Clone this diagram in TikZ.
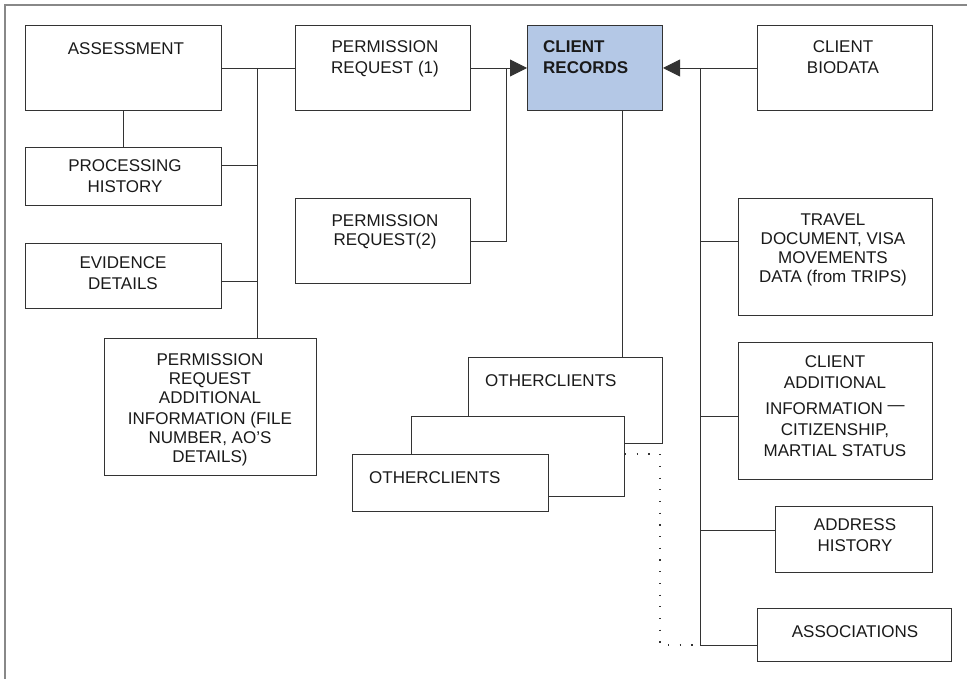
\documentclass[tikz,border=0pt]{standalone}
\usepackage{fontspec}
\setmainfont{Liberation Sans}
\usetikzlibrary{arrows.meta}
\definecolor{linec}{HTML}{333333}
\definecolor{framec}{HTML}{888888}
\definecolor{recfill}{HTML}{B4C8E6}
\definecolor{txtc}{HTML}{1A1A1A}

\begin{document}
\begin{tikzpicture}[x=1pt,y=-1pt,
  box/.style={draw=linec, line width=1pt, fill=white, anchor=north west, inner sep=0pt},
  lbl/.style={anchor=north, inner sep=0pt, align=center, text=txtc,
    font=\fontsize{17}{19}\selectfont, execute at begin node=\strut},
  lbll/.style={lbl, anchor=north west, align=left},
  conn/.style={draw=linec, line width=0.9pt},
  tip/.style={-{Triangle[length=17pt,width=17pt]}},
  dots/.style={draw=linec, line width=1.4pt, dash pattern=on 1.2pt off 10.5pt}]

\useasboundingbox (0,0) rectangle (967,679);
\draw[framec, line width=1.5pt] (5,679) -- (5,5) -- (967,5);

% boxes on the left
\node[box, minimum width=196pt, minimum height=85pt] (asmt) at (25,25) {};
\node[box, minimum width=196pt, minimum height=58pt] (proc) at (25,147) {};
\node[box, minimum width=196pt, minimum height=65pt] (evid) at (25,243) {};
\node[box, minimum width=212pt, minimum height=137pt] (prai) at (104,338) {};
\node[box, minimum width=175pt, minimum height=85pt] (pr1) at (295,25) {};
\node[box, minimum width=175pt, minimum height=85pt] (pr2) at (295,198) {};

% central record and stacked clients
\node[box, fill=recfill, minimum width=135pt, minimum height=85pt] (rec) at (527,25) {};
\node[box, minimum width=194pt, minimum height=86pt] (oc1) at (468,357) {};
\node[box, minimum width=213pt, minimum height=80pt] (oc2) at (411,416) {};
\node[box, minimum width=196pt, minimum height=57pt] (oc3) at (352,454) {};

% boxes on the right
\node[box, minimum width=175pt, minimum height=85pt] (bio) at (757,25) {};
\node[box, minimum width=194pt, minimum height=117pt] (travel) at (738,198) {};
\node[box, minimum width=194pt, minimum height=137pt] (cai) at (738,342) {};
\node[box, minimum width=157pt, minimum height=66pt] (addr) at (775,506) {};
\node[box, minimum width=194pt, minimum height=53pt] (assoc) at (757,608) {};

% texts
\node[lbl] (asmt-t) at (126,40.7) {ASSESSMENT};
\node[lbl] (proc-t) at (125,159.7) {PROCESSING\\[2pt]HISTORY};
\node[lbl] (evid-t) at (123,256.7) {EVIDENCE\\[2pt]DETAILS};
\node[lbl] (prai-t) at (210,353.7) {PERMISSION\\REQUEST\\ADDITIONAL\\[2pt]INFORMATION (FILE\\NUMBER, AO’S\\DETAILS)};
\node[lbl] (pr1-t) at (385,40.7) {PERMISSION\\[2pt]REQUEST (1)};
\node[lbl] (pr2-t) at (385,214.7) {PERMISSION\\REQUEST(2)};
\node[lbll, font=\fontsize{17}{19}\selectfont\bfseries] (rec-t) at (543,40.7) {CLIENT\\[2pt]RECORDS};
\node[lbll] (oc1-t) at (485,372.7) {OTHERCLIENTS};
\node[lbll] (oc3-t) at (369,469.7) {OTHERCLIENTS};
\node[lbl] (bio-t) at (843,40.7) {CLIENT\\[2pt]BIODATA};
\node[lbl] (travel-t) at (833,213.7) {TRAVEL\\DOCUMENT, VISA\\MOVEMENTS\\DATA (from TRIPS)};
\node[lbl] (cai-t) at (835,355.7) {CLIENT\\[2pt]ADDITIONAL\\[7pt]INFORMATION \raisebox{4pt}{\textemdash}\\[2pt]CITIZENSHIP,\\[2pt]MARTIAL STATUS};
\node[lbl] (addr-t) at (855,518.7) {ADDRESS\\[2pt]HISTORY};
\node[lbl] (assoc-t) at (855,623.7) {ASSOCIATIONS};

% bus positions
\coordinate (lbus) at (257,0);
\coordinate (pj) at (506,0);
\coordinate (dn) at (622,0);
\coordinate (dotx) at (660,0);
\coordinate (rbus) at (700,0);

% left side connectors
\draw[conn] (asmt.south) -- (proc.north);
\draw[conn] (asmt.east) -- (pr1.west);
\draw[conn] (lbus |- asmt.east) -- (lbus |- prai.north);
\draw[conn] (proc.east |- 0,165) -- (lbus |- 0,165);
\draw[conn] (evid.east |- 0,281) -- (lbus |- 0,281);

% into the client records
\draw[conn, tip] (pr1.east) -- (rec.west);
\draw[conn] (pr2.east) -| (pj |- pr1.east);
\draw[conn, tip] (bio.west) -- (rec.east);
\draw[conn] (dn |- rec.south) -- (dn |- oc1.north);

% right side bus
\draw[conn] (rbus |- bio.west) -- (rbus |- 0,645);
\draw[conn] (rbus |- 0,241) -- (travel.west |- 0,241);
\draw[conn] (rbus |- 0,416) -- (cai.west |- 0,416);
\draw[conn] (rbus |- 0,530) -- (addr.west |- 0,530);
\draw[conn] (rbus |- 0,645) -- (assoc.west |- 0,645);

% dotted link from the stacked clients
\coordinate (dotA) at (oc2.north east |- oc3.north);
\draw[dots] (dotA) -- (dotx |- dotA) -- (dotx |- 0,645) -- (rbus |- 0,645);
\end{tikzpicture}
\end{document}
